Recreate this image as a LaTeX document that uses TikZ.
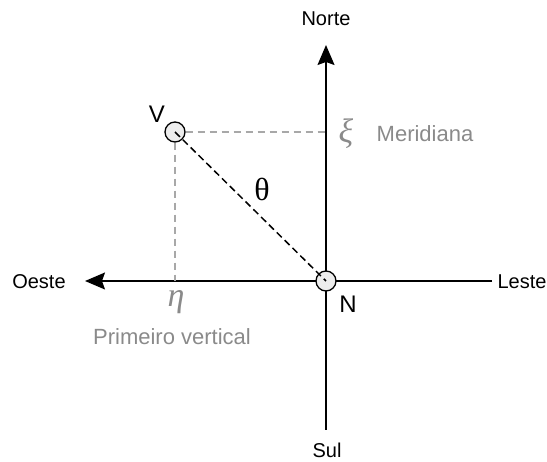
\documentclass[tikz,border=0pt]{standalone}
\usepackage{fontspec}
\setmainfont{Liberation Sans}
\newfontfamily\symfont{Liberation Serif}
\usepackage{tikz}
\usetikzlibrary{arrows.meta, positioning}
\definecolor{axisgray}{HTML}{444444}
\definecolor{labelgray}{HTML}{8A8A8A}
\definecolor{guidegray}{HTML}{A8A8A8}
\definecolor{pointfill}{HTML}{EDEDED}

\begin{document}
\begin{tikzpicture}[
    x=1pt, y=-1pt,
    axis/.style   = {line width=1.4pt, color=axisgray},
    axarr/.style  = {axis, -{Stealth[length=20pt, width=17pt, inset=3pt]}, color=black},
    guide/.style  = {line width=1.2pt, color=guidegray, dash pattern=on 7pt off 5pt},
    zenith/.style = {line width=1.5pt, color=black, dash pattern=on 7pt off 4pt},
    pt/.style     = {circle, draw=black, line width=1.3pt, fill=pointfill,
                     minimum size=20pt, inner sep=0pt},
    dir/.style    = {font=\fontsize{20}{20}\selectfont},
    big/.style    = {font=\fontsize{24}{24}\selectfont},
    glbl/.style   = {font=\fontsize{22}{22}\selectfont, text=labelgray},
    gsym/.style   = {font=\symfont\itshape\fontsize{34}{34}\selectfont, text=labelgray}
  ]
  \useasboundingbox (0,0) rectangle (547,462);

  % ── Axis ends ────────────────────────────────────────────────────────────
  \coordinate (nTip)  at (326, 45);
  \coordinate (sEnd)  at (326, 430);
  \coordinate (wTip)  at (85, 281);
  \coordinate (eEnd)  at (492, 281);
  \coordinate (xiFt)  at (326, 132);
  \coordinate (etaFt) at (175, 281);

  % ── Direction labels ─────────────────────────────────────────────────────
  \node[dir] (norte) at (326, 19)  {Norte};
  \node[dir] (sul)   at (327, 450) {Sul};
  \node[dir] (oeste) at (39, 282)  {Oeste};
  \node[dir] (leste) at (522, 282) {Leste};

  % ── Axes ─────────────────────────────────────────────────────────────────
  \draw[axarr] (sEnd) -- (nTip);   % Sul   → Norte
  \draw[axarr] (eEnd) -- (wTip);   % Leste → Oeste

  % ── Projections ──────────────────────────────────────────────────────────
  \node[pt] (vpt) at (175, 132) {};
  \draw[guide] (vpt.east)  -- (xiFt);
  \draw[guide] (vpt.south) -- (etaFt);

  \node[pt] (npt) at (326, 281) {};
  \draw[zenith] (vpt.center) -- (npt.center);

  % ── Labels ───────────────────────────────────────────────────────────────
  \node[big] (vlbl) at (157, 114) {V};
  \node[big] (nlbl) at (348, 304) {N};
  \node[font=\symfont\fontsize{32}{32}\selectfont] (theta) at (262, 189) {θ};
  \node[gsym] (xi)  at (346, 134) {ξ};
  \node[gsym] (eta) at (176, 302) {η};
  \node[glbl] (merid) at (425, 134) {Meridiana};
  \node[glbl] (pvert) at (172, 337) {Primeiro vertical};
\end{tikzpicture}
\end{document}
